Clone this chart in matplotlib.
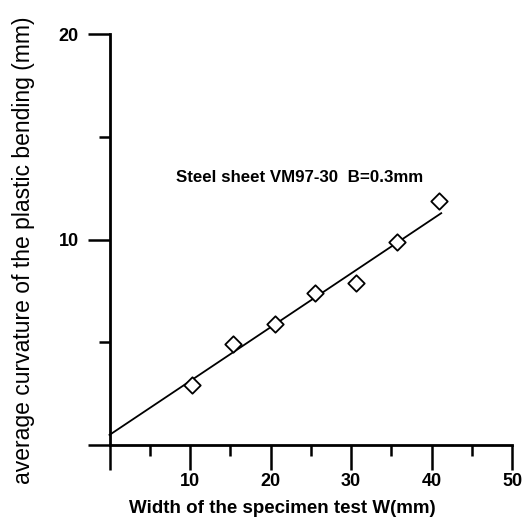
import numpy as np
import matplotlib.pyplot as plt
from matplotlib.ticker import MultipleLocator

plt.rcParams['font.family'] = ['Liberation Sans', 'DejaVu Sans']

# values
width_mm = [10.3, 15.4, 20.5, 25.5, 30.6, 35.7, 40.9]
curvature_mm = [2.9, 4.9, 5.9, 7.4, 7.9, 9.9, 11.9]
fit_intercept = 0.49
fit_slope = 0.262
fit_range = [0, 41.2]
x_major = [10, 20, 30, 40, 50]
y_major = [10, 20]

fig = plt.figure(figsize=(5.29, 5.24), dpi=100)
ax = fig.add_axes([0.207, 0.1508, 0.761, 0.784])

x_fit = np.array(fit_range)
ax.plot(x_fit, fit_intercept + fit_slope * x_fit, color='black', linewidth=1.3, clip_on=False)
ax.scatter(width_mm, curvature_mm, marker='D', s=70, facecolor='white',
           edgecolor='black', linewidth=1.3, zorder=3, clip_on=False)

ax.set_xlim(0, 50)
ax.set_ylim(0, 20)

for side in ['top', 'right']:
    ax.spines[side].set_visible(False)
for side in ['left', 'bottom']:
    ax.spines[side].set_linewidth(2.0)

ax.set_xticks([0] + x_major)
ax.set_xticklabels([''] + [str(v) for v in x_major])
ax.set_yticks([0] + y_major)
ax.set_yticklabels([''] + [str(v) for v in y_major])
ax.xaxis.set_minor_locator(MultipleLocator(5))
ax.yaxis.set_minor_locator(MultipleLocator(5))

ax.tick_params(which='major', direction='out', width=1.8, labelsize=13)
ax.tick_params(axis='x', which='major', length=18, pad=2)
ax.tick_params(axis='y', which='major', length=16, pad=6)
ax.tick_params(which='minor', direction='out', length=8, width=1.8)
for lab in ax.get_xticklabels() + ax.get_yticklabels():
    lab.set_fontweight('bold')

ax.set_xlabel('Width of the specimen test W(mm)', fontsize=13.5, fontweight='bold')
ax.xaxis.set_label_coords(0.43, -0.135)
ax.set_ylabel('average curvature of the plastic bending (mm)', fontsize=16.5)
ax.yaxis.set_label_coords(-0.185, 0.475)

ax.text(8.3, 13.0, 'Steel sheet VM97-30  B=0.3mm', fontsize=12.2, fontweight='bold',
        ha='left', va='center')

fig.savefig('out.png', dpi=100)
